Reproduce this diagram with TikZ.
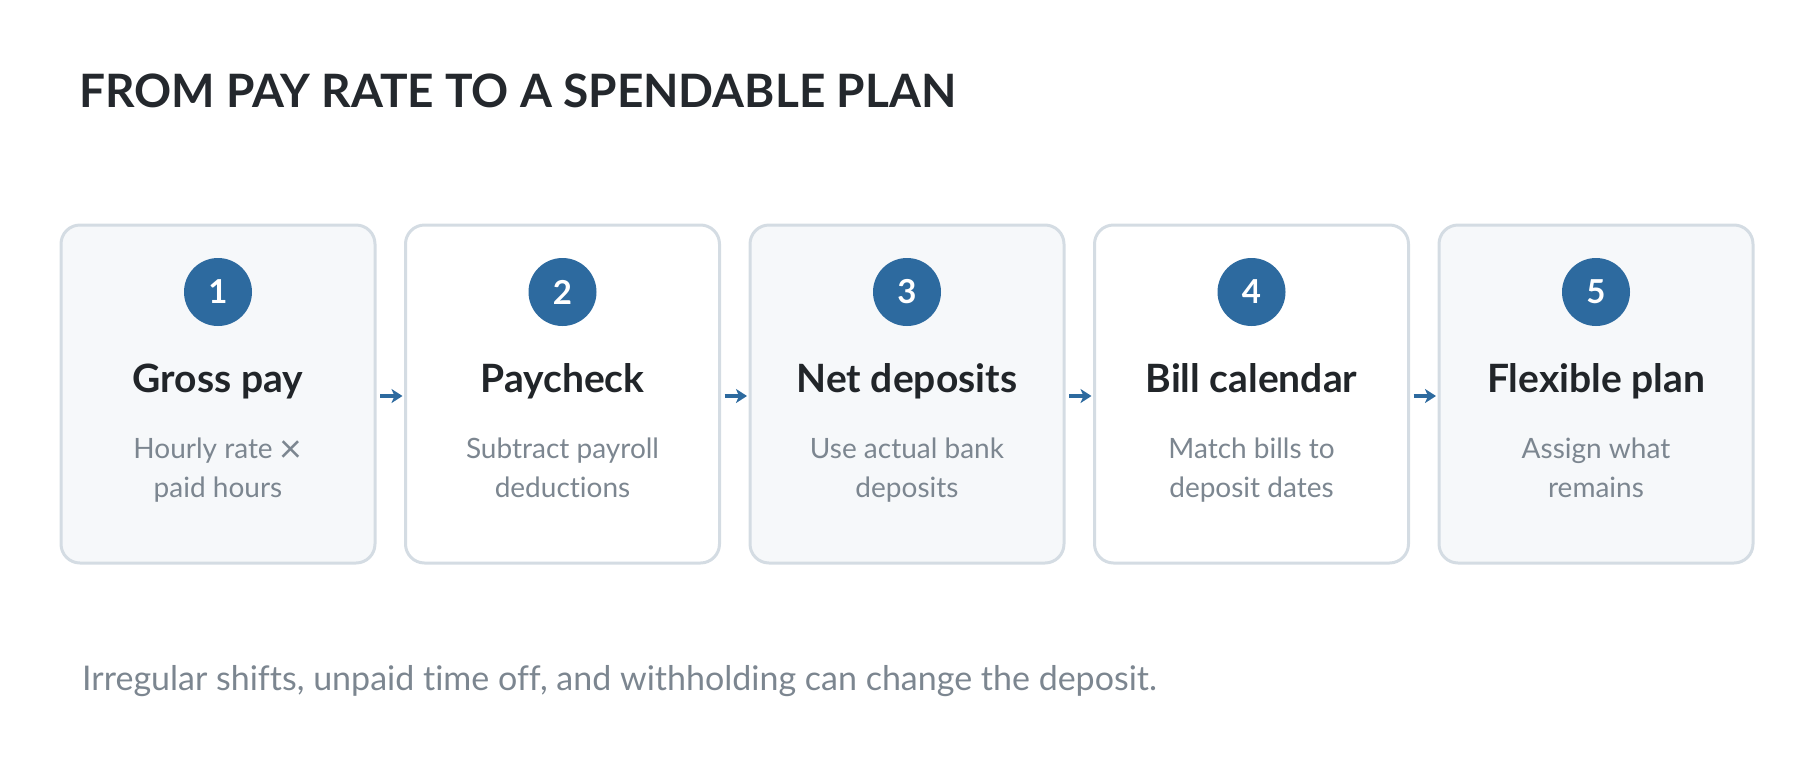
\documentclass[tikz,border=0pt]{standalone}
\usepackage{fontspec}
\setmainfont{Lato}[Ligatures=NoCommon]
\usepackage{graphicx}
\usetikzlibrary{arrows.meta}
\definecolor{titlec}{HTML}{24282D}
\definecolor{boxfill}{HTML}{F6F8FA}
\definecolor{boxline}{HTML}{D4DCE3}
\definecolor{blue1}{HTML}{2D6A9F}
\definecolor{headc}{HTML}{212529}
\definecolor{greyc}{HTML}{7C8690}
\tikzset{
  x=1pt, y=-1pt,
  stepbox/.style={draw=boxline, line width=3pt, rounded corners=19pt, minimum width=314pt, minimum height=338pt, inner sep=0pt, outer sep=0pt, anchor=north west},
  oddbox/.style={stepbox, fill=boxfill},
  evenbox/.style={stepbox, fill=white},
  numc/.style={circle, fill=blue1, minimum size=68pt, inner sep=0pt, text=white, font=\fontsize{33}{33}\selectfont\bfseries},
  headt/.style={anchor=base, text=headc, inner sep=0pt, font=\fontsize{39}{39}\selectfont\bfseries},
  desct/.style={anchor=base, text=greyc, inner sep=0pt, font=\fontsize{28}{28}\selectfont},
  flow/.style={draw=blue1, line width=3.5pt, -{Stealth[length=11pt,width=14pt,inset=3pt]}, shorten <=5pt, shorten >=3pt}
}
\begin{document}
\begin{tikzpicture}
\useasboundingbox (0,0) rectangle (1800,780);
\node[anchor=base west, inner sep=0pt, text=titlec, font=\fontsize{46}{46}\selectfont\bfseries] (title) at (79,107) {FROM PAY RATE TO A SPENDABLE PLAN};
% boxes
\node[oddbox] (b1) at (61,225) {};
\node[evenbox] (b2) at (405.5,225) {};
\node[oddbox] (b3) at (750,225) {};
\node[evenbox] (b4) at (1094.5,225) {};
\node[oddbox] (b5) at (1439,225) {};
% numbers
\foreach \i in {1,...,5} {
  \path (b\i.north) ++(0,67) node[numc] (n\i) {\i};
}
% headings
\node[headt] (h1) at ([yshift=-167]b1.north) {Gross pay};
\node[headt] (h2) at ([yshift=-167]b2.north) {Paycheck};
\node[headt] (h3) at ([yshift=-167]b3.north) {Net deposits};
\node[headt] (h4) at ([yshift=-167]b4.north) {Bill calendar};
\node[headt] (h5) at ([yshift=-167]b5.north) {Flexible plan};
% descriptions
\node[desct] (d1a) at ([yshift=-233]b1.north) {Hourly rate \raisebox{-4pt}{\scalebox{1.4}{×}}};
\node[desct] (d1b) at ([yshift=-272]b1.north) {paid hours};
\node[desct] (d2a) at ([yshift=-233]b2.north) {Subtract payroll};
\node[desct] (d2b) at ([yshift=-272]b2.north) {deductions};
\node[desct] (d3a) at ([yshift=-233]b3.north) {Use actual bank};
\node[desct] (d3b) at ([yshift=-272]b3.north) {deposits};
\node[desct] (d4a) at ([yshift=-233]b4.north) {Match bills to};
\node[desct] (d4b) at ([yshift=-272]b4.north) {deposit dates};
\node[desct] (d5a) at ([yshift=-233]b5.north) {Assign what};
\node[desct] (d5b) at ([yshift=-272]b5.north) {remains};
% arrows
\foreach \a/\b in {1/2,2/3,3/4,4/5} {
  \draw[flow] ([yshift=-2]b\a.east) -- ([yshift=-2]b\b.west);
}
% caption
\node[anchor=base west, inner sep=0pt, text=greyc, font=\fontsize{34}{34}\selectfont] (cap) at (82,690) {Irregular shifts, unpaid time off, and withholding can change the deposit.};
\end{tikzpicture}
\end{document}
